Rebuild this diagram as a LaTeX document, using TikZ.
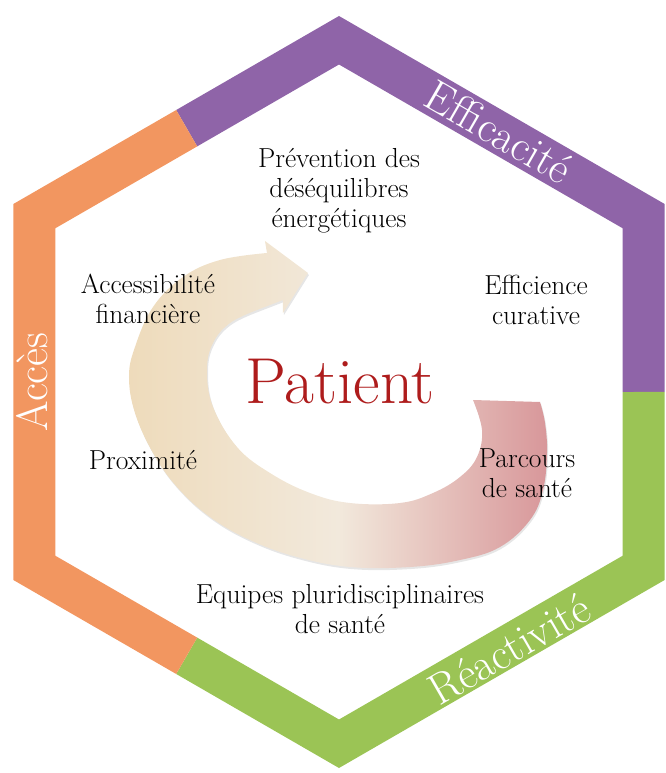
\documentclass[tikz,border=0pt]{standalone}
\usepackage{fontspec}
\usepackage{xcolor}
\usepackage{tikz}
\usetikzlibrary{shadows}

\definecolor{bandpurple}{HTML}{8F64A8}
\definecolor{bandorange}{HTML}{F29660}
\definecolor{bandgreen}{HTML}{9BC455}
\definecolor{patientred}{HTML}{AE1C1C}
\definecolor{arrowbeige}{HTML}{EEDBBB}
\definecolor{arrowcream}{HTML}{F2E9DC}
\definecolor{arrowrose}{HTML}{D8979A}
\pgfdeclarehorizontalshading{arrowshade}{100bp}{color(0bp)=(arrowbeige); color(25bp)=(arrowbeige); color(50bp)=(arrowcream); color(75bp)=(arrowrose); color(100bp)=(arrowrose)}

\begin{document}
\begin{tikzpicture}[x=1pt, y=1pt,
    band/.style={line width=42pt, line join=miter},
    bandlabel/.style={text=white, font=\fontsize{44}{44}\selectfont, inner sep=0pt},
    goal/.style={align=center, font=\fontsize{27.5}{30}\selectfont, inner sep=0pt}]
    \useasboundingbox (-339,-381) rectangle (326,392);

    % Hexagon bands
    \draw[band, bandpurple] (120:304.6) -- (90:351.75) -- (30:351.75) -- (0:304.6);
    \draw[band, bandgreen] (0:304.6) -- (-30:351.75) -- (-90:351.75) -- (-120:304.6);
    \draw[band, bandorange] (-120:304.6) -- (-150:351.75) -- (150:351.75) -- (120:304.6);

    % Band labels
    \node[bandlabel, rotate=-30] (efficacite) at (160,260) {Efficacité};
    \node[bandlabel, rotate=90] (acces) at (-307,10) {Accès};
    \node[bandlabel, rotate=30] (reactivite) at (170,-257) {Réactivité};

    % Circular arrow
    \shade[shading=arrowshade, drop shadow={opacity=0.2, shadow xshift=1pt, shadow yshift=-2pt}]
        plot[smooth, tension=0.65] coordinates {(201,-10) (206,-31) (208,-61) (204,-98) (191,-128) (161,-155) (121,-168) (71,-175) (11,-175) (-42,-165) (-89,-148) (-129,-125) (-162,-95) (-186,-61) (-204,-21) (-210,15) (-204,45) (-186,85) (-156,115) (-119,132) (-72,139)}
        -- (-74,151) -- (-31,119) -- (-56,79) -- (-56,92)
        -- plot[smooth, tension=0.65] coordinates {(-82,82) (-109,69) (-126,49) (-132,22) (-126,-15) (-102,-55) (-69,-81) (-29,-101) (11,-111) (61,-111) (94,-101) (121,-85) (138,-65) (143,-38) (134,-8)}
        -- cycle;

    % Goals around the patient
    \node[goal] (prevention) at (0,201) {Prévention des\\déséquilibres\\énergétiques};
    \node[goal] (accessibilite) at (-191,93) {Accessibilité\\financière};
    \node[goal] (efficience) at (197,92) {Efficience\\curative};
    \node[goal] (proximite) at (-196,-68) {Proximité};
    \node[goal] (parcours) at (188,-81) {Parcours\\de santé};
    \node[goal] (equipes) at (1,-217) {Equipes pluridisciplinaires\\de santé};

    % Centre
    \node[text=patientred, font=\fontsize{65}{65}\selectfont, inner sep=0pt] (patient) at (1,10) {Patient};
\end{tikzpicture}
\end{document}
